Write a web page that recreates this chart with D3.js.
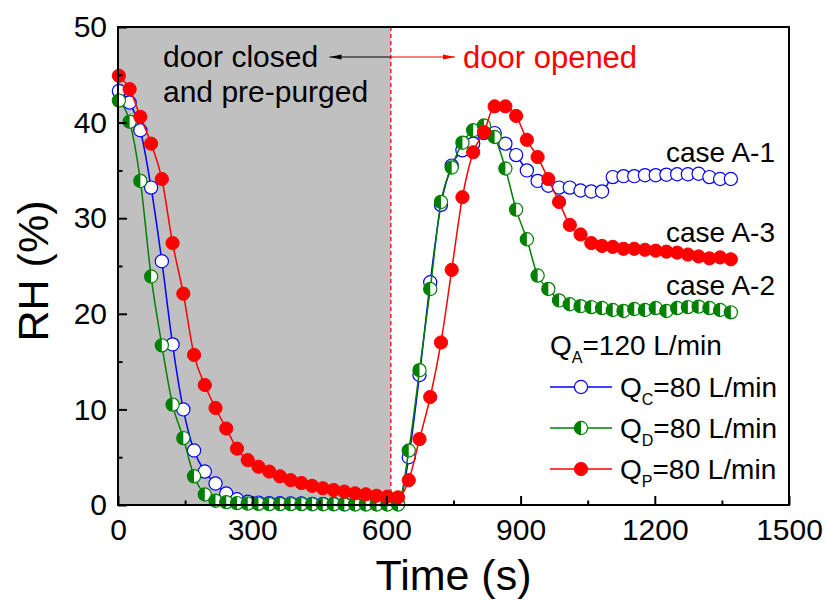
<!DOCTYPE html>
<html>
<head>
<meta charset="utf-8">
<script src="https://cdn.jsdelivr.net/npm/d3@7"></script>
<style>
  body { margin: 0; background: #fff; }
  svg text { font-family: "Liberation Sans", Arial, sans-serif; }
</style>
</head>
<body>
<div id="chart"></div>
<script>
// 采样时间 (s)
const time = [2, 26, 50, 74, 98, 122, 146, 170, 194, 218, 242, 266, 290, 314, 338, 362, 386, 410, 434, 458,
    482, 506, 530, 554, 578, 602, 626, 650, 674, 698, 722, 746, 770, 794, 818, 842, 866, 890, 914, 938,
    962, 986, 1010, 1034, 1058, 1082, 1106, 1130, 1154, 1178, 1202, 1226, 1250, 1274, 1298, 1322, 1346, 1370];

// case A-1, Q_C
const rhC = [43.3, 42.1, 39.2, 33.2, 25.5, 16.8, 10.0, 5.7, 3.5, 2.25, 1.2, 0.6, 0.35, 0.25, 0.2, 0.18, 0.15, 0.15, 0.12, 0.12,
    0.1, 0.1, 0.1, 0.1, 0.1, 0.1, 0.1, 5.0, 13.6, 23.3, 31.4, 35.5, 37.1, 37.8, 38.9, 38.9, 37.8, 36.6, 35.0, 33.9,
    33.4, 33.2, 33.2, 32.9, 32.8, 32.8, 34.3, 34.4, 34.4, 34.5, 34.5, 34.55, 34.6, 34.6, 34.65, 34.3, 34.1, 34.1];

// case A-2, Q_D
const rhD = [42.3, 40.1, 33.9, 23.9, 16.7, 10.5, 7.0, 3.0, 1.1, 0.45, 0.3, 0.2, 0.15, 0.12, 0.1, 0.1, 0.1, 0.1, 0.08, 0.08,
    0.08, 0.06, 0.06, 0.06, 0.05, 0.05, 0.05, 5.7, 14.1, 22.6, 31.7, 35.3, 37.9, 39.2, 39.7, 38.5, 35.2, 30.9, 27.8, 24.0,
    22.6, 21.4, 21.0, 20.8, 20.7, 20.6, 20.4, 20.3, 20.5, 20.4, 20.6, 20.3, 20.6, 20.7, 20.75, 20.6, 20.4, 20.15];

// case A-3, Q_P
const rhP = [44.9, 43.5, 40.6, 37.8, 34.1, 27.4, 22.1, 15.7, 12.55, 10.15, 8.0, 5.9, 4.7, 4.0, 3.5, 3.0, 2.6, 2.3, 2.0, 1.75,
    1.57, 1.4, 1.22, 1.12, 0.97, 0.87, 0.8, 2.6, 6.9, 11.3, 17.0, 24.6, 32.2, 36.9, 39.0, 41.7, 41.7, 40.7, 38.2, 36.4,
    34.1, 31.7, 29.3, 28.3, 27.4, 27.1, 27.0, 26.8, 26.8, 26.7, 26.6, 26.5, 26.4, 26.2, 26.0, 25.8, 25.9, 25.7];

const xTicks = [0, 300, 600, 900, 1200, 1500];
const yTicks = [0, 10, 20, 30, 40, 50];
const doorTime = 610;

const width = 826, height = 601;
const margin = {top: 27, right: 37, bottom: 96, left: 118};
const plotWidth = width - margin.left - margin.right;
const plotHeight = height - margin.top - margin.bottom;

const xScale = d3.scaleLinear().domain([0, 1500]).range([0, plotWidth]);
const yScale = d3.scaleLinear().domain([0, 50]).range([plotHeight, 0]);

const svg = d3.select("#chart").append("svg")
    .attr("width", width)
    .attr("height", height);

const g = svg.append("g")
    .attr("transform", `translate(${margin.left},${margin.top})`);

// 关门阶段的灰色背景
g.append("rect")
    .attr("x", 0)
    .attr("y", 0)
    .attr("width", xScale(doorTime))
    .attr("height", plotHeight)
    .attr("fill", "#c0c0c0");

g.append("line")
    .attr("x1", xScale(doorTime)).attr("x2", xScale(doorTime))
    .attr("y1", 0).attr("y2", plotHeight)
    .attr("stroke", "#ff0000")
    .attr("stroke-width", 1.3)
    .attr("stroke-dasharray", "4,3");

// 曲线
const series = [
    {name: "C", values: rhC, color: "#0000ff", marker: "open"},
    {name: "D", values: rhD, color: "#008000", marker: "half"},
    {name: "P", values: rhP, color: "#ff0000", marker: "filled"}
];

const line = d3.line()
    .x(d => xScale(d[0]))
    .y(d => yScale(d[1]))
    .curve(d3.curveMonotoneX);

const r = 6.6;

function drawMarker(sel, s) {
    if (s.marker === "open") {
        sel.append("circle").attr("r", r)
            .attr("fill", "#fff").attr("stroke", s.color).attr("stroke-width", 1.2);
    } else if (s.marker === "half") {
        sel.append("circle").attr("r", r)
            .attr("fill", "#fff").attr("stroke", s.color).attr("stroke-width", 1.2);
        sel.append("path")
            .attr("d", `M0,${-r}A${r},${r} 0 0 0 0,${r}Z`)
            .attr("fill", s.color);
    } else {
        sel.append("circle").attr("r", r)
            .attr("fill", s.color).attr("stroke", s.color).attr("stroke-width", 1);
    }
}

series.forEach(s => {
    const pts = time.map((t, i) => [t, s.values[i]]);
    g.append("path")
        .datum(pts)
        .attr("fill", "none")
        .attr("stroke", s.color)
        .attr("stroke-width", 1.5)
        .attr("d", line);

    g.append("g").selectAll("g")
        .data(pts)
        .join("g")
        .attr("transform", d => `translate(${xScale(d[0])},${yScale(d[1])})`)
        .each(function() { drawMarker(d3.select(this), s); });
});

// 坐标轴
g.append("g")
    .attr("transform", `translate(0,${plotHeight})`)
    .call(d3.axisBottom(xScale).tickValues(xTicks).tickSize(-9).tickPadding(14).tickFormat(d3.format("d")));
g.append("g")
    .attr("transform", `translate(0,${plotHeight})`)
    .call(d3.axisBottom(xScale).tickValues(d3.range(150, 1500, 300)).tickSize(-4.5).tickFormat(""));

g.append("g")
    .call(d3.axisLeft(yScale).tickValues(yTicks).tickSize(-9).tickPadding(11).tickFormat(d3.format("d")));
g.append("g")
    .call(d3.axisLeft(yScale).tickValues(d3.range(5, 50, 10)).tickSize(-4.5).tickFormat(""));

g.selectAll(".domain").remove();
g.selectAll(".tick line").attr("stroke", "#000").attr("stroke-width", 2);
g.selectAll(".tick text").style("font-size", "30px").attr("fill", "#000");

// 边框
g.append("rect")
    .attr("width", plotWidth)
    .attr("height", plotHeight)
    .attr("fill", "none")
    .attr("stroke", "#000")
    .attr("stroke-width", 2);

// 轴标题
svg.append("text")
    .attr("x", margin.left + plotWidth / 2)
    .attr("y", 590)
    .attr("text-anchor", "middle")
    .style("font-size", "43px")
    .text("Time (s)");

svg.append("text")
    .attr("transform", "translate(48,271) rotate(-90)")
    .attr("text-anchor", "middle")
    .style("font-size", "43px")
    .text("RH (%)");

// 标注
const defs = svg.append("defs");
[["arrowK", "#000"], ["arrowR", "#ff0000"]].forEach(([id, c]) => {
    defs.append("marker")
        .attr("id", id)
        .attr("viewBox", "0 0 12 8")
        .attr("refX", 12).attr("refY", 4)
        .attr("markerWidth", 12).attr("markerHeight", 8)
        .attr("markerUnits", "userSpaceOnUse")
        .attr("orient", "auto")
        .append("path")
        .attr("d", "M0,1.5L12,4L0,6.5Z")
        .attr("fill", c);
});

const ax = margin.left + xScale(doorTime);
svg.append("line")
    .attr("x1", ax).attr("x2", 329.5)
    .attr("y1", 57).attr("y2", 57)
    .attr("stroke", "#000").attr("stroke-width", 1.2)
    .attr("marker-end", "url(#arrowK)");
svg.append("line")
    .attr("x1", ax).attr("x2", 455)
    .attr("y1", 57).attr("y2", 57)
    .attr("stroke", "#ff0000").attr("stroke-width", 1.2)
    .attr("marker-end", "url(#arrowR)");

svg.append("text").attr("x", 163).attr("y", 67).style("font-size", "30px").text("door closed");
svg.append("text").attr("x", 163).attr("y", 102).style("font-size", "30px").text("and pre-purged");
svg.append("text").attr("x", 463).attr("y", 68).style("font-size", "31px").attr("fill", "#ff0000").text("door opened");

const caseLabels = [["case A-1", 162], ["case A-3", 242], ["case A-2", 295]];
caseLabels.forEach(([t, y]) => {
    svg.append("text")
        .attr("x", 775).attr("y", y)
        .attr("text-anchor", "end")
        .style("font-size", "28px")
        .text(t);
});

// 图例
function qLabel(x, y, sub, rest) {
    const t = svg.append("text").attr("x", x).attr("y", y).style("font-size", "28px");
    t.append("tspan").text("Q");
    t.append("tspan").attr("dy", 8).style("font-size", "16px").text(sub);
    t.append("tspan").attr("dy", -8).text(rest);
}

qLabel(550, 355, "A", "=120 L/min");

const legendRows = [397, 438, 479];
series.forEach((s, i) => {
    const ly = legendRows[i] - 10;
    svg.append("line")
        .attr("x1", 550).attr("x2", 612)
        .attr("y1", ly).attr("y2", ly)
        .attr("stroke", s.color).attr("stroke-width", 1.5);
    const m = svg.append("g").attr("transform", `translate(581,${ly})`);
    drawMarker(m, s);
    qLabel(620, legendRows[i], s.name, "=80 L/min");
});
</script>
</body>
</html>
